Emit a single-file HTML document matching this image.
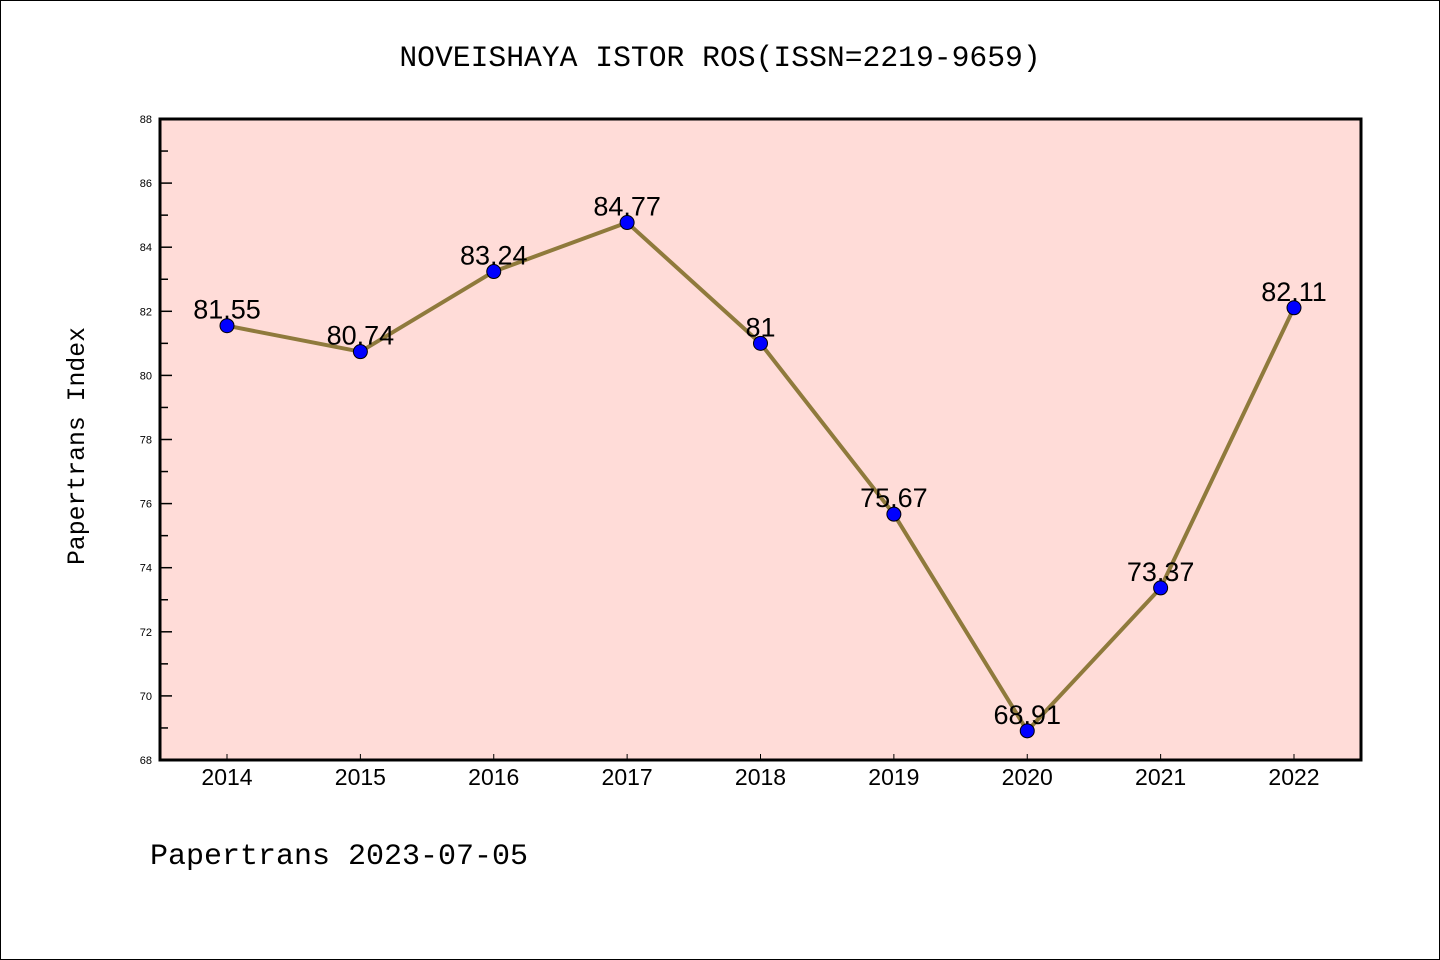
<!DOCTYPE html>
<html><head><meta charset="utf-8"><style>
body{margin:0;background:#fff;}
svg{display:block;font-family:"Liberation Mono","DejaVu Sans Mono",monospace;}
</style></head><body>
<svg width="1440" height="960" viewBox="0 0 1440 960">
<rect x="0.5" y="0.5" width="1439" height="959" fill="#fff" stroke="#000"/>
<text x="720" y="66" text-anchor="middle" font-size="29.7">NOVEISHAYA ISTOR ROS(ISSN=2219-9659)</text>
<rect x="160" y="119" width="1201" height="641" fill="#ffdcd8"/>
<g id="axes"></g>
<g id="marks"></g>
<rect x="160" y="119" width="1201" height="641" fill="none" stroke="#000" stroke-width="3"/>
<text transform="translate(84,446) rotate(-90)" text-anchor="middle" font-size="24.8">Papertrans Index</text>
<text x="150" y="864" font-size="30">Papertrans 2023-07-05</text>
</svg>
<script>
const years=["2014","2015","2016","2017","2018","2019","2020","2021","2022"];
const values=[81.55,80.74,83.24,84.77,81,75.67,68.91,73.37,82.11];
const labels=["81.55","80.74","83.24","84.77","81","75.67","68.91","73.37","82.11"];
const yTicks=[68,70,72,74,76,78,80,82,84,86,88];
const NS="http://www.w3.org/2000/svg";
const yMin=68,yMax=88,plotTop=119,plotBot=760;
function yS(v){return plotBot-(v-yMin)/(yMax-yMin)*(plotBot-plotTop);}
function xS(i){return 227+i*(1294-227)/(years.length-1);}
function mk(t,a,p){const e=document.createElementNS(NS,t);for(const k in a)e.setAttribute(k,a[k]);p.appendChild(e);return e;}
const ax=document.getElementById('axes'),mg=document.getElementById('marks');
yTicks.forEach(v=>{
 const l=mk('line',{x1:160,x2:172,y1:yS(v),y2:yS(v),stroke:'#000','stroke-width':1.5},ax);
 
 
 const t=mk('text',{x:152,y:yS(v)+4,'text-anchor':'end','font-size':11,'font-family':'"Liberation Sans",sans-serif'},ax);
 
 
 t.textContent=v;
 if(v<yMax){const m=mk('line',{x1:160,x2:168,y1:yS(v+1),y2:yS(v+1),stroke:'#000','stroke-width':1.5},ax);
 
 }
});
years.forEach((yr,i)=>{
 const l=mk('line',{x1:xS(i),x2:xS(i),y1:plotBot,y2:plotBot-6,stroke:'#000','stroke-width':1},ax);
 
 
 const t=mk('text',{x:xS(i),y:785,'text-anchor':'middle','font-size':23,'font-family':'"Liberation Sans",sans-serif'},ax);
 
 
 t.textContent=yr;
});
const pl=mk('polyline',{points:values.map((v,i)=>xS(i)+','+yS(v)).join(' '),fill:'none',stroke:'#8f7a3c','stroke-width':4},mg);


values.forEach((v,i)=>{
 const c=mk('circle',{cx:xS(i),cy:yS(v),r:7,fill:'#0000ff',stroke:'#000','stroke-width':1},mg);
 
 
 const t=mk('text',{x:xS(i),y:yS(v)-7,'text-anchor':'middle','font-size':27,'font-family':'"Liberation Sans",sans-serif'},mg);
 
 
 t.textContent=labels[i];
});
</script>
</body></html>
